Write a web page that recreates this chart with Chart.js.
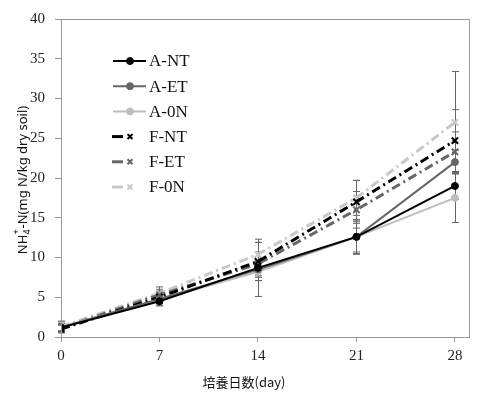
<!DOCTYPE html>
<html>
<head>
<meta charset="utf-8">
<script src="https://cdn.jsdelivr.net/npm/chart.js@4/dist/chart.umd.min.js"></script>
<style>
  html, body { margin: 0; padding: 0; background: #fff; }
</style>
</head>
<body>
<canvas id="grafico" width="493" height="393"></canvas>
<script>
// dias de incubacion y etiquetas del eje x
const dias = [0, 7, 14, 21, 28];
const etiquetasDias = ['0', '7', '14', '21', '28'];
const etiquetasY = [0, 5, 10, 15, 20, 25, 30, 35, 40];

const nombres = ['A-NT', 'A-ET', 'A-0N', 'F-NT', 'F-ET', 'F-0N'];

// NH4+-N (mg N/kg dry soil)
const aNT = [1.2, 4.5, 8.7, 12.6, 19.0];
const aET = [1.2, 4.8, 8.5, 12.6, 22.0];
const a0N = [1.3, 4.7, 8.2, 12.6, 17.5];
const fNT = [1.0, 5.0, 9.5, 17.0, 24.7];
const fET = [1.1, 5.3, 9.2, 16.0, 23.3];
const f0N = [1.3, 5.5, 10.4, 17.5, 27.0];

// desviaciones (barras de error)
const errANT = [0.5, 0.6, 3.6, 2.1, 1.7];
const errAET = [0.4, 0.5, 1.0, 1.9, 1.5];
const errA0N = [0.6, 0.7, 1.1, 2.2, 3.1];
const errFNT = [0.5, 0.8, 2.4, 2.7, 3.9];
const errFET = [0.4, 0.7, 1.5, 2.3, 2.5];
const errF0N = [0.7, 0.8, 1.5, 2.2, 6.4];

const valores = [aNT, aET, a0N, fNT, fET, f0N];
const errores = [errANT, errAET, errA0N, errFNT, errFET, errF0N];
const colores = ['#000000', '#666666', '#bdbdbd', '#000000', '#666666', '#c8c8c8'];

const serif = '"Liberation Serif", "DejaVu Serif", serif';

const datasets = nombres.map((n, i) => {
  const esF = n[0] === 'F';
  return {
    label: n,
    data: dias.map((d, j) => ({ x: d, y: valores[i][j] })),
    errores: errores[i],
    borderColor: colores[i],
    backgroundColor: colores[i],
    borderWidth: esF ? 3 : 2,
    borderDash: esF ? [9, 4, 2, 4] : [],
    pointStyle: esF ? 'crossRot' : 'circle',
    pointRadius: esF ? 4.5 : 3.5,
    pointBorderWidth: esF ? 2 : 1,
    tension: 0
  };
});

// barras de error, caja del grafico, titulos y leyenda
const extras = {
  id: 'extras',
  beforeDatasetsDraw(chart) {
    const ctx = chart.ctx;
    const sx = chart.scales.x, sy = chart.scales.y;
    ctx.save();
    ctx.strokeStyle = '#666';
    ctx.lineWidth = 1;
    chart.data.datasets.forEach(ds => {
      ds.data.forEach((p, j) => {
        const e = ds.errores[j];
        const x = Math.round(sx.getPixelForValue(p.x)) + 0.5;
        const y1 = sy.getPixelForValue(p.y + e);
        const y2 = sy.getPixelForValue(p.y - e);
        ctx.beginPath();
        ctx.moveTo(x, y1); ctx.lineTo(x, y2);
        ctx.moveTo(x - 3.5, y1); ctx.lineTo(x + 3.5, y1);
        ctx.moveTo(x - 3.5, y2); ctx.lineTo(x + 3.5, y2);
        ctx.stroke();
      });
    });
    ctx.restore();
  },
  afterDraw(chart) {
    const ctx = chart.ctx;
    const a = chart.chartArea;
    ctx.save();
    ctx.strokeStyle = '#999';
    ctx.lineWidth = 1;
    ctx.strokeRect(Math.round(a.left) + 0.5, Math.round(a.top) + 0.5, a.right - a.left, a.bottom - a.top);

    // titulo eje x
    ctx.fillStyle = '#111';
    ctx.font = '13px "Noto Sans CJK JP"';
    ctx.textAlign = 'center';
    ctx.textBaseline = 'middle';
    ctx.fillText('培養日数(day)', 244, 382);

    // titulo eje y con subindice y superindice
    ctx.translate(23, 180);
    ctx.rotate(-Math.PI / 2);
    ctx.textAlign = 'left';
    const p1 = 'NH', p2 = '-N(mg N/kg dry soil)';
    ctx.font = '13px "Noto Sans"';
    const w1 = ctx.measureText(p1).width;
    const w3 = ctx.measureText(p2).width;
    ctx.font = '9px "Noto Sans"';
    const w2 = ctx.measureText('4').width + 1;
    let x = -(w1 + w2 + w3) / 2;
    ctx.font = '13px "Noto Sans"';
    ctx.fillText(p1, x, 0);
    x += w1;
    ctx.font = '9px "Noto Sans"';
    ctx.fillText('4', x, 4);
    ctx.fillText('+', x, -7);
    x += w2;
    ctx.font = '13px "Noto Sans"';
    ctx.fillText(p2, x, 0);
    ctx.restore();

    // leyenda
    ctx.save();
    chart.data.datasets.forEach((ds, i) => {
      const y = 61 + i * 25.2;
      const esF = ds.label[0] === 'F';
      ctx.strokeStyle = ds.borderColor;
      ctx.fillStyle = ds.backgroundColor;
      ctx.lineWidth = ds.borderWidth;
      ctx.beginPath();
      if (esF) { ctx.moveTo(112, y); ctx.lineTo(123, y); }
      else { ctx.moveTo(113, y); ctx.lineTo(146, y); }
      ctx.stroke();
      ctx.lineWidth = ds.pointBorderWidth;
      Chart.helpers.drawPoint(ctx, {
        pointStyle: ds.pointStyle,
        radius: esF ? 3.5 : ds.pointRadius,
        borderWidth: ds.pointBorderWidth
      }, 130, y);
      ctx.fillStyle = '#111';
      ctx.font = '17px ' + serif;
      ctx.textBaseline = 'middle';
      ctx.fillText(ds.label, 149, y + 1);
    });
    ctx.restore();
  }
};

new Chart(document.getElementById('grafico').getContext('2d'), {
  type: 'line',
  data: { datasets: datasets },
  plugins: [extras],
  options: {
    responsive: false,
    animation: false,
    layout: { padding: { left: 0, top: 17, right: 24, bottom: 0 } },
    plugins: { legend: { display: false }, tooltip: { enabled: false } },
    scales: {
      x: {
        type: 'linear',
        min: 0,
        max: 29,
        afterBuildTicks: s => { s.ticks = dias.map(v => ({ value: v })); },
        afterFit: s => { s.height = 56; },
        grid: { drawOnChartArea: false, tickLength: 5, color: '#999' },
        border: { color: '#999' },
        ticks: {
          padding: 5,
          color: '#222',
          font: { family: serif, size: 15 },
          callback: (v) => etiquetasDias[dias.indexOf(v)]
        }
      },
      y: {
        min: 0,
        max: 40,
        afterBuildTicks: s => { s.ticks = etiquetasY.map(v => ({ value: v })); },
        afterFit: s => { s.width = 61; },
        grid: { drawOnChartArea: false, tickLength: 6, color: '#999' },
        border: { color: '#999' },
        ticks: {
          padding: 10,
          color: '#222',
          font: { family: serif, size: 15 }
        }
      }
    }
  }
});
</script>
</body>
</html>
